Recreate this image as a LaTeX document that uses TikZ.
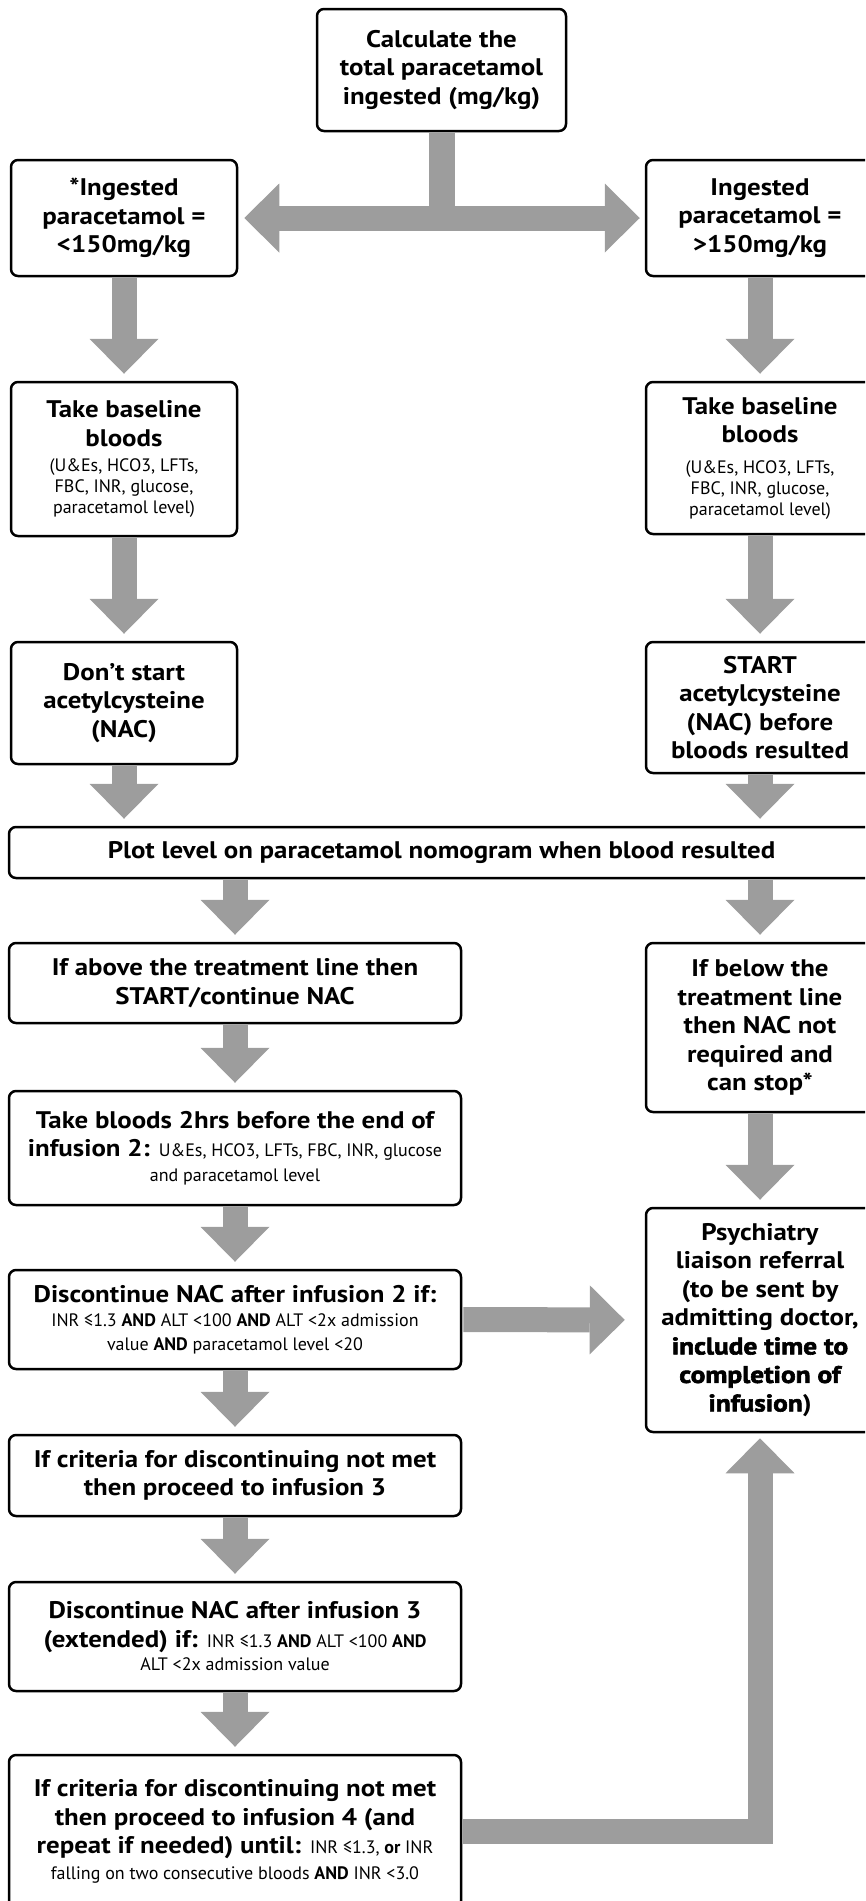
\documentclass[tikz,border=0pt]{standalone}
\usepackage{fontspec}
\setmainfont{PT Sans}[FakeStretch=1.12]
\newfontfamily\detailfont{PT Sans}
\newfontfamily\heavyfont{PT Sans}[FakeStretch=1.14, BoldFeatures={FakeBold=2.5}]
\usetikzlibrary{arrows.meta}
\definecolor{flowgray}{RGB}{157,157,157}
\newcommand{\detail}[1]{{\detailfont\mdseries\fontsize{18}{21}\selectfont #1}}
\newcommand{\heavy}[1]{{\heavyfont\bfseries #1}}
\tikzset{
  box/.style={draw, line width=2.5pt, rounded corners=7pt, fill=white, align=center,
    inner sep=0pt, font=\bfseries\fontsize{24}{28.5}\selectfont},
  flow/.style={draw=flowgray, line width=25pt, ->, shorten <=1.2pt, shorten >=7pt},
  >={Triangle[width=69pt,length=35pt,line width=0pt]},
}
\begin{document}
\begin{tikzpicture}[x=1pt, y=-1pt]
    \useasboundingbox (0,0) rectangle (865,1901);
    \clip (0,0) rectangle (865,1901);

    % start
    \node[box, minimum width=249pt, minimum height=122pt] (calc) at (441.5,70)
        {Calculate the\\total paracetamol\\ingested (mg/kg)};

    % left branch
    \node[box, minimum width=226pt, minimum height=116pt] (lowA) at (124,218)
        {*Ingested\\paracetamol =\\<150mg/kg};
    \node[box, minimum width=226pt, minimum height=154pt] (lowB) at (124,459)
        {Take baseline\\bloods\\[-3.5pt]\detail{(U\&Es, HCO3, LFTs,}\\[-7.5pt]\detail{FBC, INR, glucose,}\\[-7.5pt]\detail{paracetamol level)}};
    \node[box, minimum width=226pt, minimum height=122pt] (lowC) at (124,703)
        {Don’t start\\acetylcysteine\\(NAC)};

    % right branch
    \node[box, minimum width=228pt, minimum height=116pt] (highA) at (760,218)
        {Ingested\\paracetamol =\\>150mg/kg};
    \node[box, minimum width=228pt, minimum height=152pt] (highB) at (760,458)
        {Take baseline\\bloods\\[2pt]\detail{(U\&Es, HCO3, LFTs,}\\[-7.5pt]\detail{FBC, INR, glucose,}\\[-7.5pt]\detail{paracetamol level)}};
    \node[box, minimum width=228pt, minimum height=131pt] (highC) at (760,707.5)
        {START\\acetylcysteine\\(NAC) before\\bloods resulted};

    % nomogram
    \node[box, minimum width=865pt, minimum height=51pt] (plot) at (441.5,852.5)
        {Plot level on paracetamol nomogram when blood resulted};

    % treatment column
    \node[box, minimum width=452pt, minimum height=80pt] (above) at (235,983)
        {If above the treatment line then\\START/continue NAC};
    \node[box, minimum width=452pt, minimum height=114pt] (take2) at (235,1148)
        {Take bloods 2hrs before the end of\\infusion 2: \detail{U\&Es, HCO3, LFTs, FBC, INR, glucose}\\[-4pt]\detail{and paracetamol level}};
    \node[box, minimum width=452pt, minimum height=99pt] (disc2) at (235,1319.5)
        {Discontinue NAC after infusion 2 if:\\[-4pt]\detail{INR ≤1.3 \textbf{AND} ALT <100 \textbf{AND} ALT <2x admission}\\[-5pt]\detail{value \textbf{AND} paracetamol level <20}};
    \node[box, minimum width=452pt, minimum height=81pt] (crit3) at (235,1475.5)
        {If criteria for discontinuing not met\\then proceed to infusion 3};
    \node[box, minimum width=452pt, minimum height=109pt] (disc3) at (235,1636.5)
        {Discontinue NAC after infusion 3\\(extended) if: \detail{INR ≤1.3 \textbf{AND} ALT <100 \textbf{AND}}\\[-5pt]\detail{ALT <2x admission value}};
    \node[box, minimum width=452pt, minimum height=153pt] (crit4) at (235,1831.5)
        {If criteria for discontinuing not met\\then proceed to infusion 4 (and\\repeat if needed) until: \detail{INR ≤1.3, \textbf{or} INR}\\[-3pt]\detail{falling on two consecutive bloods \textbf{AND} INR <3.0}};

    % no treatment column
    \node[box, minimum width=228pt, minimum height=169pt] (below) at (760,1027.5)
        {If below the\\treatment line\\then NAC not\\required and\\can stop*};
    \node[box, minimum width=228pt, minimum height=224pt] (psych) at (760,1320)
        {Psychiatry\\liaison referral\\(to be sent by\\admitting doctor,\\\heavy{include time to}\\\heavy{completion of}\\\heavy{infusion})};

    % split
    \draw[draw=flowgray, line width=26pt, shorten <=1.2pt] (calc.south) -- (calc.south |- lowA.east);
    \draw[flow, <->, shorten <=6pt, shorten >=5pt] (lowA.east) -- (highA.west);

    % down arrows
    \foreach \a/\b in {lowA/lowB, lowB/lowC, highA/highB, highB/highC, above/take2,
                       take2/disc2, disc2/crit3, crit3/disc3, disc3/crit4, below/psych}
        \draw[flow] (\a.south) -- (\b.north);
    \draw[flow] (lowC.south) -- (lowC.south |- plot.north);
    \draw[flow] (highC.south) -- (highC.south |- plot.north);
    \draw[flow] (plot.south -| above.north) -- (above.north);
    \draw[flow] (plot.south -| below.north) -- (below.north);

    % to referral
    \draw[flow, shorten >=20pt] (disc2.east) -- (psych.west);
    \draw[flow, shorten >=5pt] (crit4.east) -| (psych.south);
\end{tikzpicture}
\end{document}
